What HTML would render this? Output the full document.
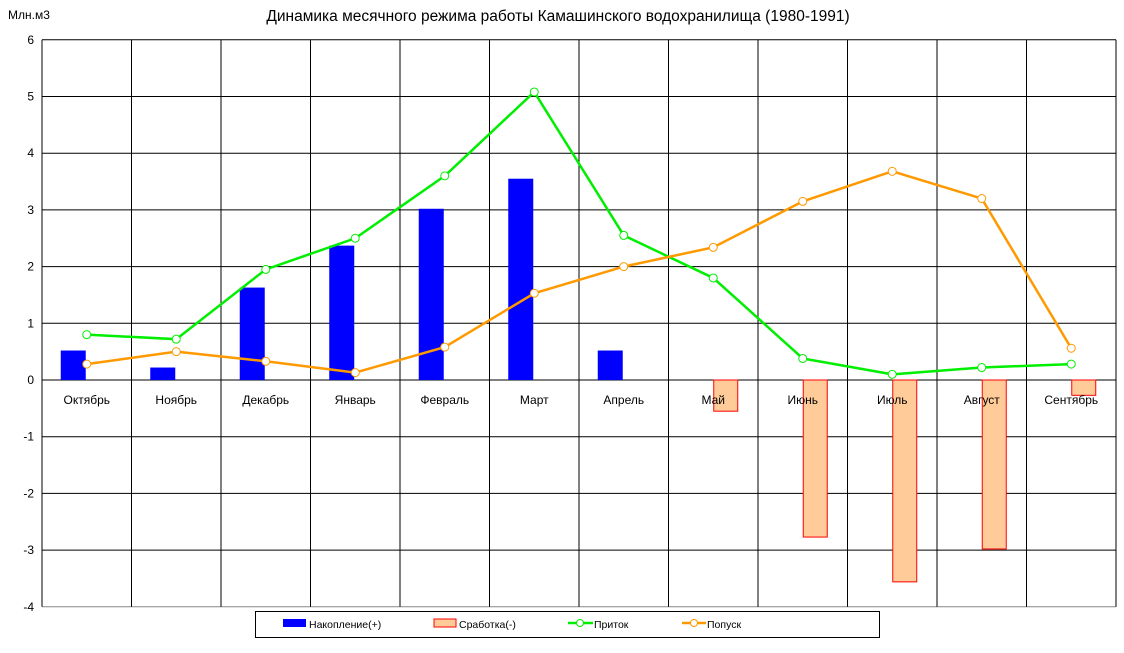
<!DOCTYPE html>
<html><head><meta charset="utf-8"><style>
body{margin:0;background:#fff;}
svg{display:block;font-family:"Liberation Sans",Arial,sans-serif;}
</style></head><body>
<svg id="c" width="1124" height="653" xmlns="http://www.w3.org/2000/svg">
<rect width="1124" height="653" fill="#fff"/>
<text x="558" y="21" font-size="15.5" text-anchor="middle">Динамика месячного режима работы Камашинского водохранилища (1980-1991)</text>
<text x="8" y="19" font-size="12">Млн.м3</text>
<g id="g"></g>
<rect x="255.5" y="611.5" width="624" height="26" fill="#fff" stroke="#000"/>
<rect x="283" y="619" width="23" height="8" fill="#0000ff"/>
<text x="309" y="628" font-size="10.5">Накопление(+)</text>
<rect x="434" y="619" width="22" height="8" fill="#ffcc99" stroke="#ff0000"/>
<text x="459" y="628" font-size="10.5">Сработка(-)</text>
<line x1="568" y1="623" x2="593" y2="623" stroke="#00ee00" stroke-width="2.5"/>
<circle cx="580" cy="623" r="3.5" fill="#fff" stroke="#00ee00"/>
<text x="594" y="628" font-size="10.5">Приток</text>
<line x1="682" y1="623" x2="706" y2="623" stroke="#ff9900" stroke-width="2.5"/>
<circle cx="694" cy="623" r="3.5" fill="#fff" stroke="#ff9900"/>
<text x="707" y="628" font-size="10.5">Попуск</text>
</svg>
<script>
var g=document.getElementById('g'),s='';
var L=42,R=1116,cw=(R-L)/12,y0=380,u=56.7;
function Y(v){return y0-v*u;}
for(var v=-4;v<=6;v++){var y=Y(v);s+='<line x1="'+L+'" x2="'+R+'" y1="'+y+'" y2="'+y+'" stroke="'+(v==-4?'#888':'#000')+'"/>';
s+='<text x="'+(L-8)+'" y="'+(y+4)+'" font-size="12" text-anchor="end">'+v+'</text>';}
for(var i=0;i<=12;i++){var x=L+i*cw;s+='<line x1="'+x+'" x2="'+x+'" y1="'+Y(6)+'" y2="'+Y(-4)+'" stroke="#000"/>';}
var m=['Октябрь','Ноябрь','Декабрь','Январь','Февраль','Март','Апрель','Май','Июнь','Июль','Август','Сентябрь'];
var acc=[0.52,0.22,1.63,2.37,3.02,3.55,0.52,0,0,0,0,0];
var dr=[0,0,0,0,0,0,0,-0.55,-2.77,-3.56,-2.98,-0.27];
var pr=[0.8,0.72,1.95,2.5,3.6,5.08,2.55,1.8,0.38,0.1,0.22,0.28];
var po=[0.28,0.5,0.33,0.13,0.58,1.53,2.0,2.34,3.15,3.68,3.2,0.56];
for(var i=0;i<12;i++){var c=L+(i+0.5)*cw;
if(acc[i])s+='<rect x="'+(c-26)+'" y="'+Y(acc[i])+'" width="25" height="'+(acc[i]*u)+'" fill="#0000ff"/>';
if(dr[i])s+='<rect x="'+(c+0.5)+'" y="'+y0+'" width="24" height="'+(-dr[i]*u)+'" fill="#ffcc99" stroke="#ff0000"/>';
s+='<text x="'+c+'" y="404" font-size="12" text-anchor="middle">'+m[i]+'</text>';}
function line(d,col){var p='';for(var i=0;i<12;i++)p+=(L+(i+0.5)*cw)+','+Y(d[i])+' ';
s+='<polyline points="'+p+'" fill="none" stroke="'+col+'" stroke-width="2.5"/>';
for(var i=0;i<12;i++)s+='<circle cx="'+(L+(i+0.5)*cw)+'" cy="'+Y(d[i])+'" r="4" fill="#fff" stroke="'+col+'"/>';}
line(pr,'#00ee00');line(po,'#ff9900');
g.innerHTML=s;
</script>
</body></html>
